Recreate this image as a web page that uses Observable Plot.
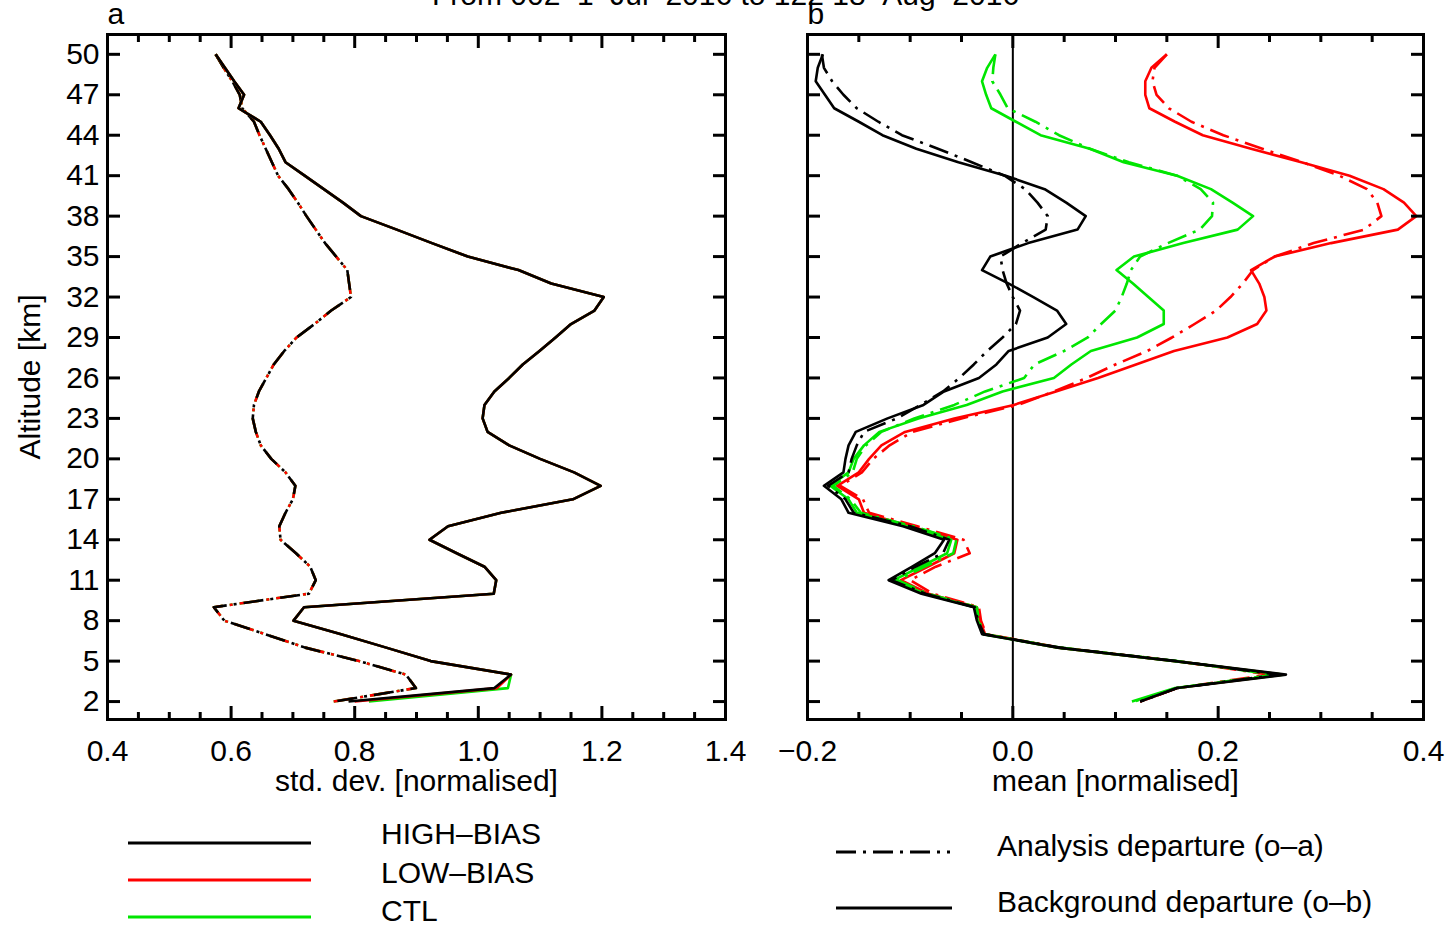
<!DOCTYPE html>
<html>
<head>
<meta charset="utf-8">
<script src="https://cdn.jsdelivr.net/npm/d3@7"></script>
<script src="https://cdn.jsdelivr.net/npm/@observablehq/plot@0.6"></script>
<style>
  body { margin: 0; background: #fff; }
  #wrap { position: relative; width: 1451px; height: 925px; overflow: hidden;
          font-family: 'Liberation Sans', Arial, sans-serif; color: #000; background: #fff; }
  .abs { position: absolute; }
  #title { left: 0; top: -20px; width: 1451px; text-align: center; font-size: 30px; line-height: 30px; white-space: pre; }
</style>
</head>
<body>
<div id="wrap">
  <div id="title" class="abs">From 002  1–Jul–2016 to 122 18–Aug–2016</div>
</div>
<script>
// ---------------- DATA ----------------
const altitudes = [50,49,48,47,46,45,44,43,42,41,40,39,38,37,36,35,34,33,32,31,30,29,28,27,26,25,24,23,22,21,20,19,18,17,16,15,14,13,12,11,10,9,8,7,6,5,4,3,2];

// panel a: std. dev. [normalised]
const sdBgHigh = [0.575,0.590,0.605,0.621,0.612,0.648,0.663,0.677,0.688,0.719,0.750,0.781,0.810,0.868,0.925,0.983,1.065,1.118,1.203,1.188,1.150,1.125,1.099,1.072,1.050,1.026,1.010,1.007,1.015,1.050,1.100,1.155,1.198,1.153,1.037,0.951,0.921,0.965,1.010,1.029,1.025,0.718,0.701,0.778,0.851,0.923,1.053,1.026,0.790];
const sdBgLow  = [0.575,0.590,0.605,0.621,0.612,0.648,0.663,0.677,0.688,0.719,0.750,0.781,0.810,0.868,0.925,0.983,1.065,1.118,1.203,1.188,1.150,1.125,1.099,1.072,1.050,1.026,1.010,1.007,1.015,1.050,1.100,1.155,1.198,1.153,1.037,0.951,0.921,0.965,1.010,1.029,1.025,0.718,0.701,0.778,0.851,0.923,1.053,1.030,0.800];
const sdBgCtl  = [0.575,0.590,0.605,0.621,0.612,0.648,0.663,0.677,0.688,0.719,0.750,0.781,0.810,0.868,0.925,0.983,1.065,1.118,1.203,1.188,1.150,1.125,1.099,1.072,1.050,1.026,1.010,1.007,1.015,1.050,1.100,1.155,1.198,1.153,1.037,0.951,0.921,0.965,1.010,1.029,1.025,0.718,0.701,0.778,0.851,0.923,1.053,1.048,0.823];
const sdAnHigh = [0.575,0.588,0.602,0.614,0.618,0.637,0.646,0.656,0.666,0.676,0.693,0.708,0.722,0.737,0.752,0.770,0.788,0.791,0.794,0.762,0.735,0.706,0.686,0.669,0.657,0.645,0.637,0.635,0.640,0.648,0.665,0.688,0.704,0.700,0.688,0.678,0.680,0.705,0.728,0.737,0.726,0.572,0.589,0.655,0.720,0.807,0.883,0.899,0.766];
const sdAnLow  = [0.575,0.588,0.602,0.614,0.618,0.637,0.646,0.656,0.666,0.676,0.693,0.708,0.722,0.737,0.752,0.770,0.788,0.791,0.794,0.762,0.735,0.706,0.686,0.669,0.657,0.645,0.637,0.635,0.640,0.648,0.665,0.688,0.704,0.700,0.688,0.678,0.680,0.705,0.728,0.737,0.726,0.572,0.589,0.655,0.720,0.807,0.883,0.899,0.766];
const sdAnCtl  = [0.575,0.588,0.602,0.614,0.618,0.637,0.646,0.656,0.666,0.676,0.693,0.708,0.722,0.737,0.752,0.770,0.788,0.791,0.794,0.762,0.735,0.706,0.686,0.669,0.657,0.645,0.637,0.635,0.640,0.648,0.665,0.688,0.704,0.700,0.688,0.678,0.680,0.705,0.728,0.737,0.726,0.572,0.589,0.655,0.720,0.807,0.883,0.899,0.766];

// panel b: mean [normalised]
const meanBgHigh = [-0.185,-0.190,-0.192,-0.183,-0.174,-0.150,-0.127,-0.094,-0.053,-0.007,0.031,0.052,0.071,0.063,0.015,-0.022,-0.030,-0.004,0.020,0.043,0.052,0.034,-0.004,-0.016,-0.033,-0.067,-0.087,-0.122,-0.153,-0.160,-0.163,-0.165,-0.184,-0.167,-0.160,-0.107,-0.067,-0.076,-0.098,-0.121,-0.089,-0.038,-0.035,-0.030,0.044,0.158,0.266,0.160,0.124];
const meanBgLow  = [0.150,0.135,0.129,0.129,0.133,0.158,0.185,0.232,0.281,0.328,0.361,0.381,0.393,0.375,0.310,0.255,0.232,0.240,0.245,0.247,0.238,0.209,0.157,0.120,0.083,0.042,0.001,-0.057,-0.105,-0.128,-0.140,-0.150,-0.171,-0.150,-0.145,-0.100,-0.054,-0.057,-0.083,-0.109,-0.082,-0.035,-0.032,-0.027,0.044,0.158,0.262,0.160,0.124];
const meanBgCtl  = [-0.017,-0.025,-0.030,-0.026,-0.021,0.003,0.027,0.075,0.108,0.160,0.193,0.214,0.234,0.219,0.166,0.118,0.101,0.117,0.132,0.147,0.147,0.121,0.076,0.057,0.040,-0.010,-0.045,-0.092,-0.130,-0.145,-0.155,-0.160,-0.178,-0.160,-0.152,-0.103,-0.060,-0.064,-0.090,-0.116,-0.086,-0.037,-0.034,-0.029,0.044,0.158,0.263,0.158,0.116];
const meanAnHigh = [-0.186,-0.184,-0.176,-0.165,-0.152,-0.131,-0.108,-0.073,-0.040,-0.008,0.012,0.024,0.034,0.032,0.009,-0.012,-0.010,-0.006,0.000,0.007,0.003,-0.010,-0.025,-0.038,-0.052,-0.068,-0.090,-0.113,-0.145,-0.152,-0.157,-0.160,-0.180,-0.163,-0.155,-0.100,-0.062,-0.068,-0.095,-0.118,-0.085,-0.037,-0.034,-0.028,0.046,0.160,0.258,0.160,0.124];
const meanAnLow  = [0.150,0.138,0.136,0.140,0.152,0.174,0.205,0.243,0.282,0.318,0.345,0.355,0.359,0.342,0.293,0.255,0.234,0.224,0.212,0.198,0.177,0.155,0.131,0.100,0.072,0.040,0.005,-0.050,-0.098,-0.120,-0.136,-0.147,-0.168,-0.146,-0.140,-0.093,-0.048,-0.042,-0.075,-0.100,-0.078,-0.033,-0.031,-0.026,0.046,0.160,0.250,0.160,0.124];
const meanAnCtl  = [-0.017,-0.019,-0.020,-0.012,-0.005,0.022,0.045,0.075,0.113,0.160,0.183,0.195,0.194,0.182,0.151,0.124,0.115,0.111,0.106,0.100,0.086,0.073,0.050,0.021,0.011,-0.027,-0.057,-0.096,-0.128,-0.143,-0.152,-0.156,-0.175,-0.158,-0.148,-0.097,-0.055,-0.058,-0.086,-0.112,-0.083,-0.035,-0.033,-0.028,0.046,0.160,0.255,0.160,0.118];

// ticks
const xMajorA = [0.4, 0.6, 0.8, 1.0, 1.2, 1.4];
const xMinorA = [0.45,0.5,0.55,0.65,0.7,0.75,0.85,0.9,0.95,1.05,1.1,1.15,1.25,1.3,1.35];
const xMajorB = [-0.2, 0.0, 0.2, 0.4];
const xMinorB = [-0.15,-0.1,-0.05,0.05,0.1,0.15,0.25,0.3,0.35];
const yTicks = [2,5,8,11,14,17,20,23,26,29,32,35,38,41,44,47,50];

// legend
const experiments = ["HIGH–BIAS", "LOW–BIAS", "CTL"];
const expColors = ["#000000", "#ff0000", "#00e600"];
const departures = ["Analysis departure (o–a)", "Background departure (o–b)"];

// ---------------- DRAW ----------------
const FONT = "'Liberation Sans', Arial, sans-serif";
const DASH = "20,7,3,7";
const LW = 2.6;
const rows = (vals) => altitudes.map((alt, i) => ({alt, v: vals[i]}));
const lineOpts = (stroke, dash, offset) => ({x: "v", y: "alt", stroke, strokeWidth: LW, strokeLinejoin: "round", strokeLinecap: "butt",
  ...(dash ? {strokeDasharray: dash, strokeDashoffset: offset || 0} : {})});

function frameMarks(xMajor, xMinor, withYLabels) {
  return [
    Plot.frame({strokeWidth: 3}),
    Plot.axisX(xMajor, {anchor: "bottom", tickSize: -13, strokeWidth: 3, fill: "none", tickFormat: () => "", label: null}),
    Plot.axisX(xMinor, {anchor: "bottom", tickSize: -7, strokeWidth: 3, fill: "none", tickFormat: () => "", label: null}),
    Plot.axisX(xMajor, {anchor: "top", tickSize: -13, strokeWidth: 3, fill: "none", tickFormat: () => "", label: null}),
    Plot.axisX(xMinor, {anchor: "top", tickSize: -7, strokeWidth: 3, fill: "none", tickFormat: () => "", label: null}),
    Plot.axisX(xMajor, {anchor: "bottom", tickSize: 0, tickPadding: 20, tickFormat: d3.format(".1f"), label: null, fontSize: 30}),
    Plot.axisY(yTicks, {anchor: "left", tickSize: -13, strokeWidth: 3, fill: "none", tickFormat: () => "", label: null}),
    Plot.axisY(yTicks, {anchor: "right", tickSize: -13, strokeWidth: 3, fill: "none", tickFormat: () => "", label: null}),
    withYLabels ? Plot.axisY(yTicks, {anchor: "left", tickSize: 0, tickPadding: 8, label: null, fontSize: 30}) : null
  ];
}

const H = 800, MT = 34, MB = 81;
const yScale = {domain: [0.67, 51.47], label: null};

const plotA = Plot.plot({
  width: 745, height: H, marginLeft: 107, marginRight: 20, marginTop: MT, marginBottom: MB,
  style: {fontFamily: FONT, fontSize: "30px", background: "transparent", overflow: "visible", color: "#000"},
  x: {domain: [0.4, 1.4], label: null},
  y: yScale,
  marks: [
    Plot.line(rows(sdAnCtl), lineOpts(expColors[2], DASH, 0)),
    Plot.line(rows(sdAnLow), lineOpts(expColors[1], DASH, 0)),
    Plot.line(rows(sdAnHigh), lineOpts(expColors[0], DASH, 4)),
    Plot.line(rows(sdBgCtl), lineOpts(expColors[2])),
    Plot.line(rows(sdBgLow), lineOpts(expColors[1])),
    Plot.line(rows(sdBgHigh), lineOpts(expColors[0])),
    ...frameMarks(xMajorA, xMinorA, true),
    Plot.text(["a"], {frameAnchor: "top-left", text: d => d, dy: -11, lineAnchor: "bottom", textAnchor: "start", fontSize: 30}),
    Plot.text(["std. dev. [normalised]"], {frameAnchor: "bottom", text: d => d, dy: 62, lineAnchor: "middle", textAnchor: "middle", fontSize: 30}),
    Plot.text(["Altitude [km]"], {frameAnchor: "left", text: d => d, dx: -77, rotate: -90, lineAnchor: "middle", textAnchor: "middle", fontSize: 30})
  ]
});

const plotB = Plot.plot({
  width: 706, height: H, marginLeft: 62, marginRight: 28, marginTop: MT, marginBottom: MB,
  style: {fontFamily: FONT, fontSize: "30px", background: "transparent", overflow: "visible", color: "#000"},
  x: {domain: [-0.2, 0.4], label: null},
  y: yScale,
  marks: [
    Plot.ruleX([0], {strokeWidth: 2}),
    Plot.line(rows(meanAnLow), lineOpts(expColors[1], DASH, 0)),
    Plot.line(rows(meanBgLow), lineOpts(expColors[1])),
    Plot.line(rows(meanAnCtl), lineOpts(expColors[2], DASH, 0)),
    Plot.line(rows(meanBgCtl), lineOpts(expColors[2])),
    Plot.line(rows(meanAnHigh), lineOpts(expColors[0], DASH, 0)),
    Plot.line(rows(meanBgHigh), lineOpts(expColors[0])),
    ...frameMarks(xMajorB, xMinorB, false),
    Plot.text(["b"], {frameAnchor: "top-left", text: d => d, dy: -11, lineAnchor: "bottom", textAnchor: "start", fontSize: 30}),
    Plot.text(["mean [normalised]"], {frameAnchor: "bottom", text: d => d, dy: 62, lineAnchor: "middle", textAnchor: "middle", fontSize: 30})
  ]
});

const wrap = document.getElementById("wrap");
plotA.classList.add("abs"); plotA.style.left = "0px"; plotA.style.top = "0px";
plotB.classList.add("abs"); plotB.style.left = "745px"; plotB.style.top = "0px";
wrap.appendChild(plotA);
wrap.appendChild(plotB);

// legend below the charts
const leg = d3.select(wrap).append("svg")
  .attr("class", "abs").style("left", "0px").style("top", "800px")
  .attr("width", 1451).attr("height", 125)
  .style("font-family", FONT).style("font-size", "30px");
const legY = [43, 80, 117];
const legBase = [44, 83, 121];
experiments.forEach((name, i) => {
  leg.append("line").attr("x1", 128).attr("x2", 311).attr("y1", legY[i]).attr("y2", legY[i])
    .attr("stroke", expColors[i]).attr("stroke-width", 3);
  leg.append("text").attr("x", 381).attr("y", legBase[i]).attr("fill", "#000").text(name);
});
const depY = [52, 108];
const depBase = [56, 112];
departures.forEach((name, i) => {
  leg.append("line").attr("x1", 836).attr("x2", i === 0 ? 950 : 952).attr("y1", depY[i]).attr("y2", depY[i])
    .attr("stroke", "#000").attr("stroke-width", 3).attr("stroke-dasharray", i === 0 ? DASH : null);
  leg.append("text").attr("x", 997).attr("y", depBase[i]).attr("fill", "#000").text(name);
});
</script>
</body>
</html>
